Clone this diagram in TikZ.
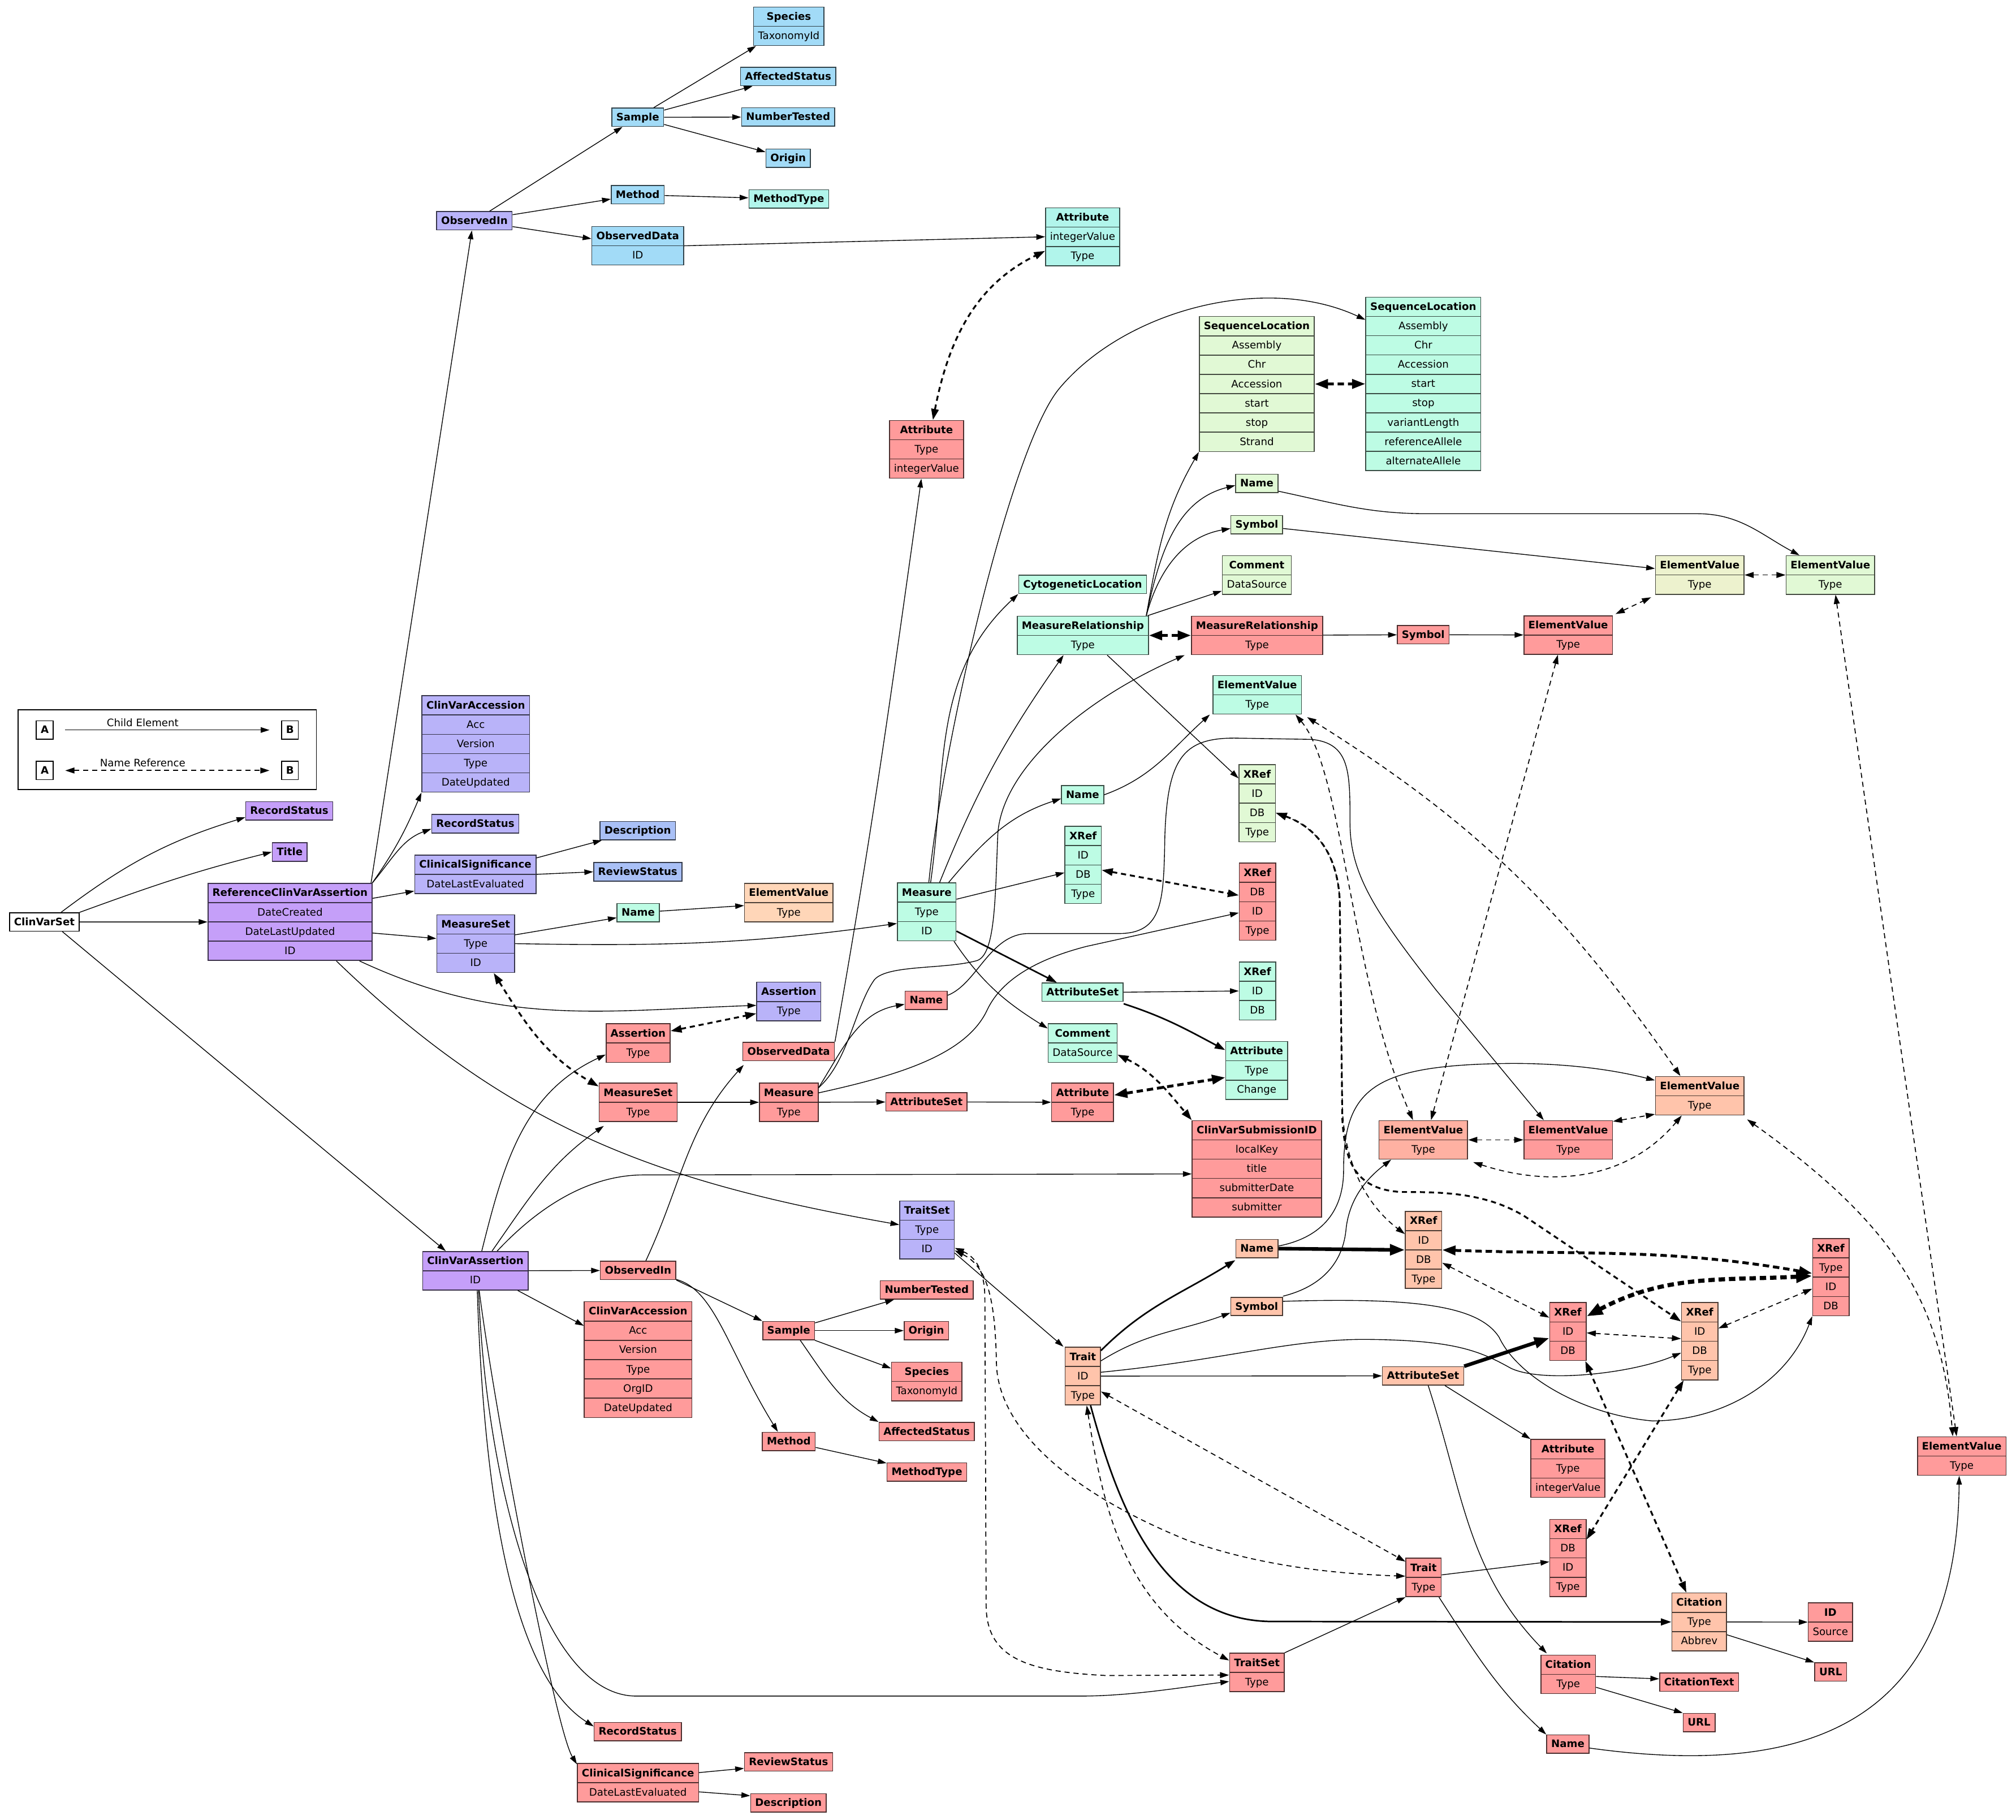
\documentclass[tikz,border=0pt]{standalone}
\usepackage{fontspec}
\setmainfont{DejaVu Sans}
\usetikzlibrary{arrows.meta,shapes.multipart}
\definecolor{cBlue}{HTML}{A2DBF7}
\definecolor{cCyan}{HTML}{B1F5EB}
\definecolor{cLav}{HTML}{B9B3F9}
\definecolor{cPurp}{HTML}{C59FF9}
\definecolor{cSky}{HTML}{A9C0F6}
\definecolor{cMint}{HTML}{BDFCE4}
\definecolor{cPeach}{HTML}{FFD6B8}
\definecolor{cGreen}{HTML}{E1F9D5}
\definecolor{cOlive}{HTML}{EDF2CE}
\definecolor{cRed}{HTML}{FF9B9B}
\definecolor{cSalmon}{HTML}{FFC4AB}
\definecolor{cCoral}{HTML}{FFB1A2}
\newcommand{\rowst}{\fontsize{8}{9}\selectfont\rule[-3pt]{0pt}{11.3pt}}
\newcommand{\hdr}[1]{\rowst\textbf{#1}}
\newcommand{\fld}[2]{\nodepart{#1}\rowst #2}
\tikzset{
  >={Triangle[length=5.5pt 2.2,width=3.2pt 1.8]},
  % boxes
  el/.style={draw=#1!30!black,fill=#1,line width=0.7pt,inner xsep=3.5pt,
             inner ysep=1.5pt,font=\fontsize{8}{9}\selectfont},
  elw/.style={el=white,draw=black},
  rec/.style 2 args={el=#1,rectangle split,rectangle split parts=#2,anchor=north},
  lbl/.style={font=\fontsize{8}{9}\selectfont,inner sep=0pt,anchor=base},
  % edges
  ce/.style={->,line width=0.6pt},
  w2/.style={line width=1.2pt},
  w3/.style={line width=2.8pt},
  nr/.style={<->,line width=0.75pt,dash pattern=on 4pt off 3pt},
  nr2/.style={nr,line width=1.4pt},
  nr3/.style={nr,line width=2.2pt,dash pattern=on 5pt off 3pt},
  nr4/.style={nr,line width=3.2pt,dash pattern=on 5pt off 3pt},
}
\begin{document}
\begin{tikzpicture}[x=1pt,y=-1pt]
\fill[white] (0,0) rectangle (1568,1415);
\useasboundingbox (0,0) rectangle (1568,1415);
% legend
\draw[line width=0.7pt] (14,552) rectangle (246,614);
\node[elw] (la1) at (34.8,567.7) {\hdr{A}};
\node[elw] (lb1) at (225.5,567.7) {\hdr{B}};
\node[elw] (la2) at (34.8,599.2) {\hdr{A}};
\node[elw] (lb2) at (225.5,599.2) {\hdr{B}};
\node[lbl] (lg1) at (111,565) {Child Element};
\node[lbl] (lg2) at (111,596.4) {Name Reference};
\draw[ce,shorten <=9pt,shorten >=9pt] (la1) -- (lb1);
\draw[nr,shorten <=9pt,shorten >=9pt] (la2) -- (lb2);
% top group
\node[el=cBlue] (sa1) at (496,91.2) {\hdr{Sample}};
\node[rec={cBlue}{2}] (sp1) at (613.5,5.1) {\hdr{Species}\fld{two}{TaxonomyId}};
\node[el=cBlue] (af1) at (613,59.5) {\hdr{AffectedStatus}};
\node[el=cBlue] (nt1) at (613,91) {\hdr{NumberTested}};
\node[el=cBlue] (or1) at (613,123) {\hdr{Origin}};
\node[el=cBlue] (mo1) at (496,151.5) {\hdr{Method}};
\node[el=cCyan] (mt1) at (613.5,154.7) {\hdr{MethodType}};
\node[el=cLav] (oi1) at (369,171.7) {\hdr{ObservedIn}};
\node[rec={cBlue}{2}] (od1) at (496,175.8) {\hdr{ObservedData}\fld{two}{ID}};
\node[rec={cCyan}{3}] (at1) at (842,161.3) {\hdr{Attribute}\fld{two}{integerValue}\fld{three}{Type}};
\node[rec={cRed}{3}] (at2) at (720.6,326.6) {\hdr{Attribute}\fld{two}{Type}\fld{three}{integerValue}};
\node[rec={cGreen}{7}] (sl1) at (977.5,245.8) {\hdr{SequenceLocation}\fld{two}{Assembly}\fld{three}{Chr}\fld{four}{Accession}\fld{five}{start}\fld{six}{stop}\fld{seven}{Strand}};
\node[rec={cMint}{9}] (sl2) at (1107,230.7) {\hdr{SequenceLocation}\fld{two}{Assembly}\fld{three}{Chr}\fld{four}{Accession}\fld{five}{start}\fld{six}{stop}\fld{seven}{variantLength}\fld{eight}{referenceAllele}\fld{nine}{alternateAllele}};
\node[el=cGreen] (nm1) at (977.5,376) {\hdr{Name}};
\node[el=cGreen] (sy1) at (977.5,408) {\hdr{Symbol}};
\node[rec={cGreen}{2}] (cm1) at (977.5,431.8) {\hdr{Comment}\fld{two}{DataSource}};
\node[el=cMint] (cy1) at (842,454.5) {\hdr{CytogeneticLocation}};
\node[rec={cOlive}{2}] (ev1) at (1322,431.8) {\hdr{ElementValue}\fld{two}{Type}};
\node[rec={cGreen}{2}] (ev2) at (1423.6,431.8) {\hdr{ElementValue}\fld{two}{Type}};
\node[rec={cMint}{2}] (mr1) at (842.2,478.8) {\hdr{MeasureRelationship}\fld{two}{Type}};
\node[rec={cRed}{2}] (mr2) at (977.7,478.8) {\hdr{MeasureRelationship}\fld{two}{Type}};
\node[el=cRed] (sy2) at (1106.9,493.6) {\hdr{Symbol}};
\node[rec={cRed}{2}] (ev5) at (1219.7,478.5) {\hdr{ElementValue}\fld{two}{Type}};
\node[rec={cMint}{2}] (ev3) at (977.8,525) {\hdr{ElementValue}\fld{two}{Type}};
\node[rec={cGreen}{4}] (xr1) at (977.8,594.3) {\hdr{XRef}\fld{two}{ID}\fld{three}{DB}\fld{four}{Type}};
\node[el=cMint] (nm3) at (842,618.1) {\hdr{Name}};
\node[rec={cMint}{4}] (xr2) at (842.4,642.3) {\hdr{XRef}\fld{two}{ID}\fld{three}{DB}\fld{four}{Type}};
\node[rec={cRed}{4}] (xr3) at (978,670.9) {\hdr{XRef}\fld{two}{DB}\fld{three}{ID}\fld{four}{Type}};
% reference assertion
\node[elw] (cvs0) at (34.5,717) {\hdr{ClinVarSet}};
\node[el=cPurp] (rs1) at (225,630.6) {\hdr{RecordStatus}};
\node[el=cPurp] (ti1) at (225.3,662.6) {\hdr{Title}};
\node[rec={cPurp}{4}] (rcva) at (225.6,686.6) {\hdr{ReferenceClinVarAssertion}\fld{two}{DateCreated}\fld{three}{DateLastUpdated}\fld{four}{ID}};
\node[rec={cLav}{5}] (cva1) at (370,540.7) {\hdr{ClinVarAccession}\fld{two}{Acc}\fld{three}{Version}\fld{four}{Type}\fld{five}{DateUpdated}};
\node[el=cLav] (rs2) at (369.7,640.6) {\hdr{RecordStatus}};
\node[rec={cLav}{2}] (cs1) at (369.7,664.6) {\hdr{ClinicalSignificance}\fld{two}{DateLastEvaluated}};
\node[rec={cLav}{3}] (ms1) at (370,711) {\hdr{MeasureSet}\fld{two}{Type}\fld{three}{ID}};
\node[el=cSky] (de1) at (496,646) {\hdr{Description}};
\node[el=cSky] (rv1) at (496,678) {\hdr{ReviewStatus}};
\node[el=cMint] (nm2) at (496.4,709.7) {\hdr{Name}};
\node[rec={cPeach}{2}] (ev4) at (613.5,686.6) {\hdr{ElementValue}\fld{two}{Type}};
\node[rec={cMint}{3}] (me1) at (720.8,686.3) {\hdr{Measure}\fld{two}{Type}\fld{three}{ID}};
\node[rec={cRed}{2}] (as2) at (496.3,795.8) {\hdr{Assertion}\fld{two}{Type}};
\node[rec={cLav}{2}] (as4) at (613.5,763.5) {\hdr{Assertion}\fld{two}{Type}};
\node[rec={cRed}{2}] (ms2) at (496.3,841.9) {\hdr{MeasureSet}\fld{two}{Type}};
\node[el=cRed] (od2) at (613.4,817.7) {\hdr{ObservedData}};
\node[el=cRed] (nm4) at (720.4,778) {\hdr{Name}};
\node[rec={cRed}{2}] (me2) at (613.5,841.9) {\hdr{Measure}\fld{two}{Type}};
\node[el=cRed] (as5) at (720.6,856.9) {\hdr{AttributeSet}};
\node[rec={cRed}{2}] (at4) at (842,841.9) {\hdr{Attribute}\fld{two}{Type}};
\node[el=cMint] (as3) at (842,771.6) {\hdr{AttributeSet}};
\node[rec={cMint}{3}] (xr4) at (978,747.8) {\hdr{XRef}\fld{two}{ID}\fld{three}{DB}};
\node[rec={cMint}{2}] (cm2) at (842,795.8) {\hdr{Comment}\fld{two}{DataSource}};
\node[rec={cMint}{3}] (at3) at (977.4,809.6) {\hdr{Attribute}\fld{two}{Type}\fld{three}{Change}};
\node[rec={cRed}{5}] (cvs) at (977.5,871.1) {\hdr{ClinVarSubmissionID}\fld{two}{localKey}\fld{three}{title}\fld{four}{submitterDate}\fld{five}{submitter}};
\node[rec={cLav}{3}] (ts1) at (721,933.6) {\hdr{TraitSet}\fld{two}{Type}\fld{three}{ID}};
\node[rec={cSalmon}{2}] (ev6) at (1322,836.8) {\hdr{ElementValue}\fld{two}{Type}};
\node[rec={cCoral}{2}] (ev7) at (1107,871.1) {\hdr{ElementValue}\fld{two}{Type}};
\node[rec={cRed}{2}] (ev8) at (1219.7,871.1) {\hdr{ElementValue}\fld{two}{Type}};
% assertion
\node[rec={cPurp}{2}] (cva) at (369.7,972.9) {\hdr{ClinVarAssertion}\fld{two}{ID}};
\node[el=cRed] (oi2) at (496.3,988) {\hdr{ObservedIn}};
\node[rec={cRed}{6}] (cva2) at (496.3,1012) {\hdr{ClinVarAccession}\fld{two}{Acc}\fld{three}{Version}\fld{four}{Type}\fld{five}{OrgID}\fld{six}{DateUpdated}};
\node[el=cRed] (rs3) at (496,1346.6) {\hdr{RecordStatus}};
\node[rec={cRed}{2}] (cs2) at (496.2,1371) {\hdr{ClinicalSignificance}\fld{two}{DateLastEvaluated}};
\node[el=cRed] (rv2) at (613.3,1370.2) {\hdr{ReviewStatus}};
\node[el=cRed] (de2) at (613.2,1402) {\hdr{Description}};
\node[el=cRed] (nt2) at (720.8,1003.2) {\hdr{NumberTested}};
\node[el=cRed] (or2) at (720.5,1034.8) {\hdr{Origin}};
\node[el=cRed] (sa2) at (613.4,1034.8) {\hdr{Sample}};
\node[rec={cRed}{2}] (sp2) at (720.8,1059) {\hdr{Species}\fld{two}{TaxonomyId}};
\node[el=cRed] (af2) at (720.7,1113.3) {\hdr{AffectedStatus}};
\node[el=cRed] (me3) at (613.5,1121) {\hdr{Method}};
\node[el=cRed] (mt2) at (720.9,1144.8) {\hdr{MethodType}};
\node[rec={cSalmon}{3}] (tr1) at (842.2,1047.3) {\hdr{Trait}\fld{two}{ID}\fld{three}{Type}};
\node[el=cSalmon] (nm5) at (977.6,971) {\hdr{Name}};
\node[el=cSalmon] (sy3) at (977.4,1016) {\hdr{Symbol}};
\node[rec={cRed}{2}] (ts2) at (977.6,1285.3) {\hdr{TraitSet}\fld{two}{Type}};
\node[rec={cSalmon}{4}] (xr5) at (1107.2,941.7) {\hdr{XRef}\fld{two}{ID}\fld{three}{DB}\fld{four}{Type}};
\node[rec={cRed}{3}] (xr6) at (1219.5,1012.7) {\hdr{XRef}\fld{two}{ID}\fld{three}{DB}};
\node[rec={cSalmon}{4}] (xr7) at (1322,1012.7) {\hdr{XRef}\fld{two}{ID}\fld{three}{DB}\fld{four}{Type}};
\node[rec={cRed}{4}] (xr8) at (1424,962.9) {\hdr{XRef}\fld{two}{Type}\fld{three}{ID}\fld{four}{DB}};
\node[el=cSalmon] (as6) at (1106.8,1070) {\hdr{AttributeSet}};
\node[rec={cRed}{3}] (at5) at (1219.5,1119.1) {\hdr{Attribute}\fld{two}{Type}\fld{three}{integerValue}};
\node[rec={cRed}{4}] (xr9) at (1219.5,1181.2) {\hdr{XRef}\fld{two}{DB}\fld{three}{ID}\fld{four}{Type}};
\node[rec={cRed}{2}] (tr2) at (1107.2,1211.4) {\hdr{Trait}\fld{two}{Type}};
\node[rec={cSalmon}{3}] (ci1) at (1321.6,1238.5) {\hdr{Citation}\fld{two}{Type}\fld{three}{Abbrev}};
\node[rec={cRed}{2}] (id1) at (1423.6,1246.1) {\hdr{ID}\fld{two}{Source}};
\node[el=cRed] (ur1) at (1423.8,1300.3) {\hdr{URL}};
\node[rec={cRed}{2}] (ci2) at (1219.7,1286.8) {\hdr{Citation}\fld{two}{Type}};
\node[el=cRed] (ct1) at (1321.5,1308.1) {\hdr{CitationText}};
\node[el=cRed] (ur2) at (1321.5,1339.6) {\hdr{URL}};
\node[el=cRed] (nm6) at (1219.4,1356.4) {\hdr{Name}};
\node[rec={cRed}{2}] (ev9) at (1525.8,1117) {\hdr{ElementValue}\fld{two}{Type}};
% child edges, top
\draw[ce] (oi1) -- (sa1);
\draw[ce] (oi1) -- (mo1);
\draw[ce] (oi1) -- (od1);
\draw[ce] (sa1) -- (sp1);
\draw[ce] (sa1) -- (af1);
\draw[ce] (sa1) -- (nt1);
\draw[ce] (sa1) -- (or1);
\draw[ce] (mo1) -- (mt1);
\draw[ce] (od1.east) -- (at1.west);
\draw[nr2] ([xshift=5pt]at2.north) to[out=79,in=206] ([yshift=-11pt]at1.west);
% clinvarset
\draw[ce] ([xshift=13pt]cvs0.north) to[out=37,in=197] ([yshift=-5pt]rs1.west);
\draw[ce] (cvs0.north east) to[out=20,in=194] (ti1.west);
\draw[ce] (cvs0) -- (rcva);
\draw[ce] ([xshift=14pt]cvs0.south) -- ([xshift=-23pt]cva.north);
\draw[ce] ([xshift=63pt]rcva.north) -- ([xshift=-2pt]oi1.south);
\draw[ce] ([xshift=64pt]rcva.north) to[out=55,in=247] (cva1.south west);
\draw[ce] ([xshift=64pt]rcva.north) to[out=50,in=200] ([yshift=-4pt]rs2.west);
\draw[ce] ([yshift=-12pt]rcva.north east) -- ([yshift=-13pt]cs1.west);
\draw[ce] ([yshift=-39pt]rcva.north east) -- ([yshift=4pt]ms1.west);
\draw[ce] ([xshift=54pt]rcva.south) to[out=-25,in=182] ([yshift=-3pt]as4.west);
\draw[ce] ([xshift=36pt]rcva.south) to[out=-44,in=170] ([yshift=4pt]ts1.west);
\draw[ce] (cs1) -- (de1);
\draw[ce] (cs1.east) -- (rv1.west);
\draw[ce] ([yshift=-16pt]ms1.north east) -- ([yshift=-4pt]nm2.west);
\draw[ce] (ms1.east) to[out=-1,in=188] ([yshift=-9pt]me1.west);
\draw[ce] (nm2) -- (ev4);
\draw[nr2] ([xshift=14pt]ms1.south) to[out=-58,in=150] ([yshift=-3pt]ms2.north west);
\draw[nr2] ([yshift=-6pt]as2.north east) -- ([yshift=6pt]as4.south west);
\draw[ce] (ms2) -- (me2);
\draw[ce] (me2) -- (as5);
\draw[ce] (as5) -- (at4);
\draw[nr3] ([yshift=5.6pt]at4.east) -- ([yshift=-5.5pt]at3.west);
\draw[nr2] ([yshift=-9pt]cm2.east) to[out=-26,in=130] (cvs.north west);
% measure
\draw[ce] ([xshift=1.6pt]me1.north) .. controls (732.5,583.6) and (785.4,348) .. (824,302) .. controls (875.4,240.7) and (984.7,212.7) .. ([yshift=-18pt]sl2.north west);
\draw[ce] ([xshift=3pt]me1.north) to[out=82,in=223] (cy1.south west);
\draw[ce] ([xshift=10pt]me1.north) to[out=68,in=235] ([xshift=-15pt]mr1.south);
\draw[ce] ([xshift=17pt]me1.north) to[out=50,in=198] ([yshift=-3pt]nm3.west);
\draw[ce] ([yshift=-13pt]me1.north east) -- ([yshift=-6pt]xr2.west);
\draw[ce,w2] ([yshift=-15pt]me1.east) -- ([xshift=-20pt]as3.north);
\draw[ce] ([xshift=-2pt]me1.south east) to[out=-56,in=148] ([yshift=-4pt]cm2.north west);
\draw[nr3] (mr1) -- (mr2);
\draw[ce] ([xshift=-2pt]mr1.north east) to[out=80,in=240] (sl1.south west);
\draw[ce] ([xshift=-2pt]mr1.north east) to[out=78,in=194] ([yshift=-1.5pt]nm1.west);
\draw[ce] ([xshift=-2pt]mr1.north east) to[out=75,in=190] ([yshift=-3pt]sy1.west);
\draw[ce] ([xshift=-1pt]mr1.north east) -- ([yshift=3pt]cm1.south west);
\draw[ce] ([xshift=19pt]mr1.south) -- ([yshift=-11pt]xr1.north west);
\draw[nr3] (sl1.east) -- (sl2.west);
\draw[ce] (mr2) -- (sy2);
\draw[ce] (sy2) -- (ev5);
\draw[nr] ([xshift=2pt,yshift=1pt]ev5.north east) -- ([xshift=-3pt,yshift=-2pt]ev1.south west);
\draw[nr] (ev1) -- (ev2);
\draw[ce] ([yshift=-6pt]nm1.east) to[out=-12,in=180] (1110,399.5) -- (1320,399.5) to[out=0,in=152] ([xshift=-24pt]ev2.north);
\draw[ce] ([yshift=-3pt]sy1.east) -- ([yshift=5pt]ev1.west);
\draw[ce] (nm3.east) to[out=20,in=222] ([xshift=-2pt]ev3.south west);
\draw[nr2] ([yshift=-4pt]xr2.east) -- ([yshift=5pt]xr3.west);
\draw[ce] (as3.east) -- (xr4.west);
\draw[ce,w2] ([yshift=-9pt]as3.east) to[out=-18,in=152] ([yshift=-7pt]at3.north west);
\draw[ce] ([yshift=-4pt]me2.north east) .. controls (660,825) and (665,783) .. (680,762) .. controls (690,750) and (735,754) .. (760,747) .. controls (774,742) and (774,700) .. (776,650) .. controls (778,600) and (840,545) .. ([xshift=-5pt]mr2.south west);
\draw[ce] ([yshift=-8pt]me2.north east) .. controls (700,836) and (752,820) .. (768,785) .. controls (780,760) and (810,745) .. (845,736) -- ([yshift=-8.6pt]xr3.west);
\draw[ce] ([yshift=-4pt]me2.north east) to[out=58,in=190] ([yshift=-3pt]nm4.west);
\draw[ce] ([yshift=4pt]nm4.east) .. controls (760,765) and (770,726) .. (800,726) -- (870,726) .. controls (905,726) and (905,700) .. (906,650) .. controls (908,590) and (920,574) .. (960,574) -- (1020,575) .. controls (1050,578) and (1050,600) .. (1050,640) .. controls (1050,680) and (1070,710) .. (1117,770) -- ([xshift=-19pt]ev8.north);
\draw[ce] (od2.north east) to[out=80,in=-98] ([xshift=-4pt]at2.south);
\draw[ce] ([xshift=6pt]oi2.north) to[out=65,in=228] ([xshift=1pt,yshift=-3pt]od2.south west);
% element values
\draw[nr] ([xshift=4pt,yshift=-2pt]ev3.south east) to[out=-32,in=125] ([xshift=-15pt]ev6.north);
\draw[nr] ([xshift=-5pt]ev3.south east) .. controls (1045,600) and (1050,760) .. ([xshift=-8pt]ev7.north);
\draw[nr] ([xshift=-8pt]ev5.south) -- ([xshift=6pt]ev7.north);
\draw[nr] (ev7) -- (ev8);
\draw[nr] ([yshift=-1pt]ev8.north east) -- ([yshift=1pt]ev6.south west);
\draw[nr] ([xshift=4pt,yshift=-2pt]ev7.south east) to[out=-18,in=-130] ([xshift=-14pt]ev6.south);
\draw[nr] ([xshift=4pt]ev2.south) -- ([xshift=-4pt]ev9.north);
\draw[nr] ([xshift=2pt,yshift=-3pt]ev6.south east) .. controls (1470,950) and (1510,1010) .. ([xshift=-7pt]ev9.north);
% assertion
\draw[ce] ([xshift=5pt]cva.north) to[out=76,in=205] ([yshift=-9pt]as2.west);
\draw[ce] ([xshift=13pt]cva.north) to[out=55,in=215] ([xshift=4pt,yshift=-3pt]ms2.south west);
\draw[ce] ([xshift=17pt]cva.north) .. controls (410,948) and (450,914) .. (500,913.7) -- ([yshift=-4pt]cvs.west);
\draw[ce] (cva) -- (oi2);
\draw[ce] ([xshift=33pt]cva.south) -- ([yshift=-19pt]cva2.north west);
\draw[ce] ([xshift=1.5pt]cva.south) .. controls (376,1150) and (395,1300) .. ([yshift=4pt]rs3.west);
\draw[ce] ([xshift=3pt]cva.south) .. controls (385,1100) and (432,1345) .. ([yshift=-1pt]cs2.north west);
\draw[ce] ([xshift=2.5pt]cva.south) .. controls (378,1150) and (420,1319) .. (495,1319) -- (840,1319) .. controls (880,1319) and (920,1312) .. ([yshift=-7pt]ts2.west);
\draw[ce] ([yshift=-7.5pt]cs2.north east) -- ([yshift=-5pt]rv2.west);
\draw[ce] ([yshift=-22.5pt]cs2.north east) -- ([yshift=5.5pt]de2.west);
\draw[ce] (oi2.south east) -- (sa2.north west);
\draw[ce] ([yshift=-7pt]oi2.east) .. controls (556,1003) and (566,1050) .. ([xshift=-8.5pt]me3.north);
\draw[ce] (sa2) -- (nt2);
\draw[ce] (sa2) -- (or2);
\draw[ce] (sa2) -- (sp2);
\draw[ce] ([xshift=9pt]sa2.south) to[out=-55,in=152] (af2.north west);
\draw[ce] (me3) -- (mt2);
% traits
\draw[ce] ([yshift=-18pt]ts1.east) -- ([xshift=-1pt]tr1.north west);
\draw[nr] ([yshift=-14pt]ts1.east) .. controls (760,978) and (766,990) .. (766,1010) -- (767,1250) .. controls (768,1290) and (800,1300) .. (860,1303) -- ([yshift=-2pt]ts2.west);
\draw[nr] ([yshift=-16pt]ts1.east) .. controls (768,985) and (774,1010) .. (775,1060) .. controls (776,1110) and (830,1160) .. (924,1198) .. controls (980,1218) and (1040,1224) .. ([yshift=1pt]tr2.west);
\draw[nr] ([xshift=3pt]tr1.south) to[out=-81,in=152] ([yshift=-6pt]ts2.north west);
\draw[nr] ([yshift=-12pt]tr1.east) -- ([yshift=-3pt]tr2.north west);
\draw[ce,w2] ([yshift=-3pt]tr1.north east) to[out=45,in=212] ([yshift=-9pt]nm5.west);
\draw[ce] ([yshift=-11pt]tr1.north east) to[out=32,in=200] ([yshift=-5pt]sy3.west);
\draw[ce] ([yshift=3pt]tr1.east) .. controls (950,1058) and (1000,1042) .. (1060,1041.6) .. controls (1130,1042) and (1150,1050) .. (1175,1064) .. controls (1200,1076) and (1270,1068) .. ([yshift=-9pt]xr7.west);
\draw[ce] (tr1.east) -- (as6.west);
\draw[ce,w2] ([xshift=6pt]tr1.south) .. controls (868,1165) and (900,1261) .. (990,1261) -- (ci1.west);
\draw[ce,w3] (nm5.east) -- (xr5.west);
\draw[ce] ([yshift=2pt]nm5.east) .. controls (1030,962) and (1045,940) .. (1045,910) .. controls (1045,845) and (1070,828) .. (1176,827) .. controls (1220,827) and (1255,832) .. ([yshift=12pt]ev6.west);
\draw[ce] ([yshift=8pt]sy3.east) .. controls (1030,1000) and (1045,980) .. (1047,955) .. controls (1050,930) and (1065,915) .. ([xshift=-25pt]ev7.south);
\draw[ce] ([yshift=4pt]sy3.east) .. controls (1100,1009) and (1150,1015) .. (1166,1040) .. controls (1180,1070) and (1230,1100) .. (1285,1105) .. controls (1340,1105) and (1390,1075) .. (xr8.south west);
\draw[ce,w3] (as6.north east) -- ([yshift=-5pt]xr6.west);
\draw[ce] ([xshift=17pt]as6.south) -- (at5.north west);
\draw[ce] ([xshift=4pt]as6.south) to[out=-72,in=134] ([xshift=5pt,yshift=1pt]ci2.north west);
\draw[ce] ([yshift=2pt]tr2.east) -- ([yshift=-3pt]xr9.west);
\draw[ce] ([xshift=12pt]tr2.south) to[out=-57,in=137] (nm6.north west);
\draw[ce] ([yshift=-3pt]nm6.east) .. controls (1420,1385) and (1522,1330) .. ([xshift=-2pt]ev9.south);
\draw[ce] (ci1.east) -- (id1.west);
\draw[ce] ([yshift=-10pt]ci1.east) -- (ur1.north west);
\draw[ce] ([yshift=-1.6pt]ci2.east) -- ([yshift=2.5pt]ct1.west);
\draw[ce] ([yshift=-10pt]ci2.east) -- (ur2.north west);
\draw[ce] (ts2.north east) -- (tr2.south west);
% xrefs
\draw[nr] ([yshift=-7.5pt]xr1.east) .. controls (1020,642) and (1040,660) .. (1042,700) -- (1044,860) .. controls (1045,900) and (1060,935) .. ([yshift=-18pt]xr5.north west);
\draw[nr2] ([yshift=-7.5pt]xr1.east) .. controls (1020,642) and (1040,660) .. (1042,700) -- (1044,870) .. controls (1046,905) and (1055,925) .. (1090,927) .. controls (1120,927) and (1155,927) .. (1186,946) -- ([yshift=-15pt]xr7.north west);
\draw[nr3] (xr5.east) to[out=-2,in=170] ([yshift=3pt]xr8.west);
\draw[nr4] ([yshift=-11pt]xr6.north east) to[out=28,in=183] ([yshift=1pt]xr8.west);
\draw[nr] ([yshift=-10pt]xr5.east) -- ([yshift=-12pt]xr6.north west);
\draw[nr] ([yshift=-1pt]xr6.east) -- ([yshift=2pt]xr7.west);
\draw[nr] ([yshift=10pt]xr7.east) -- ([yshift=-9pt]xr8.west);
\draw[nr2] ([xshift=-1pt]xr6.south east) -- ([xshift=-10pt]ci1.north);
\draw[nr2] ([xshift=2pt]xr7.south west) -- ([yshift=-16pt]xr9.north east);
\end{tikzpicture}
\end{document}
